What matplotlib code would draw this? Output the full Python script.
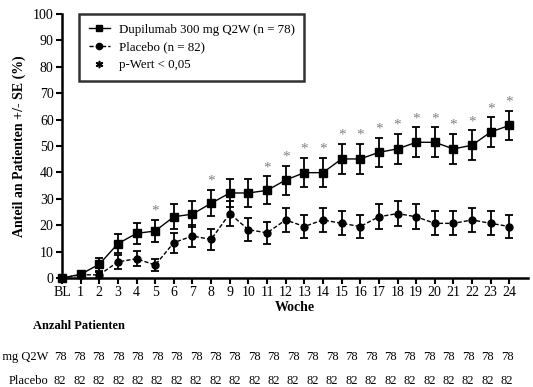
"""Dupilumab vs placebo responder curve with patient-count table."""

import matplotlib

matplotlib.use("Agg")
import matplotlib.pyplot as plt  # noqa: E402
import numpy as np  # noqa: E402
from matplotlib.lines import Line2D  # noqa: E402

plt.rcParams["font.family"] = ["Liberation Serif", "DejaVu Serif"]

W, H = 533, 387

weeks = np.arange(0, 25)
week_labels = ["BL"] + [str(w) for w in range(1, 25)]

dupi = [0, 1.4, 5.2, 13.0, 16.9, 17.8, 23.2, 24.2, 28.3, 32.2, 32.2, 33.2,
        37.1, 39.9, 39.9, 45.1, 45.1, 47.6, 48.9, 51.4, 51.4, 48.9, 50.3, 55.3, 57.8]
dupi_se = [0, 1.4, 2.5, 3.7, 4.1, 4.3, 4.7, 4.9, 5.0, 5.2, 5.2, 5.3,
           5.5, 5.5, 5.5, 5.6, 5.6, 5.6, 5.7, 5.7, 5.7, 5.7, 5.7, 5.6, 5.6]

placebo = [0, 1.2, 1.2, 6.1, 7.3, 4.9, 13.4, 15.9, 14.6, 24.4, 18.3, 17.1,
           22.0, 19.5, 22.0, 20.7, 19.5, 23.2, 24.4, 23.2, 20.7, 20.7, 22.0, 20.7, 19.5]
placebo_se = [0, 1.2, 1.2, 2.6, 2.9, 2.4, 3.8, 4.0, 3.9, 4.7, 4.3, 4.2,
              4.6, 4.4, 4.6, 4.5, 4.4, 4.7, 4.7, 4.7, 4.5, 4.5, 4.6, 4.5, 4.4]

signif_weeks = [5, 8, 11, 12, 13, 14, 15, 16, 17, 18, 19, 20, 21, 22, 23, 24]

n_dupi = [78] * 24
n_placebo = [82] * 24


def px(x, y):
    return x / W, 1 - y / H


fig = plt.figure(figsize=(W / 100, H / 100), dpi=100)
ax = fig.add_axes([62 / W, (H - 278) / H, (528 - 62) / W, (278 - 14) / H])

ax.errorbar(weeks, placebo, yerr=placebo_se, color="black", lw=1.0, ls=(0, (3, 1.5)),
            marker="o", ms=5, capsize=3, elinewidth=1.3, capthick=1.3, clip_on=False,
            zorder=3)
ax.errorbar(weeks, dupi, yerr=dupi_se, color="black", lw=1.0, ls="-",
            marker="s", ms=5.5, capsize=3, elinewidth=1.3, capthick=1.3, clip_on=False,
            zorder=4)

for w in signif_weeks:
    ax.text(w, dupi[w] + dupi_se[w] + 0.8, "*", ha="center", va="bottom",
            fontsize=11, color="#808080")

ax.set_xlim(0, 25)
ax.set_ylim(0, 100)
ax.set_xticks(weeks)
ax.set_xticklabels(week_labels)
ax.set_yticks(np.arange(0, 101, 10))
ax.tick_params(axis="both", direction="out", length=4, width=1.5, labelsize=10, pad=2)
for side in ["top", "right"]:
    ax.spines[side].set_visible(False)
for side in ["left", "bottom"]:
    ax.spines[side].set_linewidth(1.8)

ax.set_xlabel("Woche", fontsize=10, fontweight="bold", labelpad=1)
ax.set_ylabel("Anteil an Patienten +/- SE (%)", fontsize=10, fontweight="bold", labelpad=5)

handles = [
    Line2D([], [], color="black", ls="-", marker="s", ms=5, lw=1.0),
    Line2D([], [], color="black", ls=(0, (3, 1.5)), marker="o", ms=4.5, lw=1.0),
    Line2D([], [], color="black", ls="none", marker=r"$*$", ms=4.5),
]
labels = ["Dupilumab 300 mg Q2W (n = 78)", "Placebo (n = 82)", "p-Wert < 0,05"]
leg = ax.legend(handles, labels, loc="upper left", bbox_to_anchor=(0.037, 1.0),
                fontsize=9.3, frameon=True, fancybox=False, edgecolor="black",
                handlelength=1.6, handletextpad=0.7, borderpad=0.75,
                labelspacing=0.45, borderaxespad=0)
leg.get_frame().set_linewidth(1.8)

# patient count table
fig.text(*px(33, 326), "Anzahl Patienten", fontsize=9, fontweight="bold",
         ha="left", va="center")
fig.text(*px(48, 357), "Dupilumab 300 mg Q2W", fontsize=9, ha="right", va="center")
fig.text(*px(48, 381), "Placebo", fontsize=9, ha="right", va="center")
col_x = np.linspace(60, 507, len(n_dupi))
for cx, a, b in zip(col_x, n_dupi, n_placebo):
    fig.text(*px(cx, 357), str(a), fontsize=9, ha="center", va="center")
    fig.text(*px(cx, 381), str(b), fontsize=9, ha="center", va="center")

plt.savefig("out.png", dpi=100)
plt.close()
